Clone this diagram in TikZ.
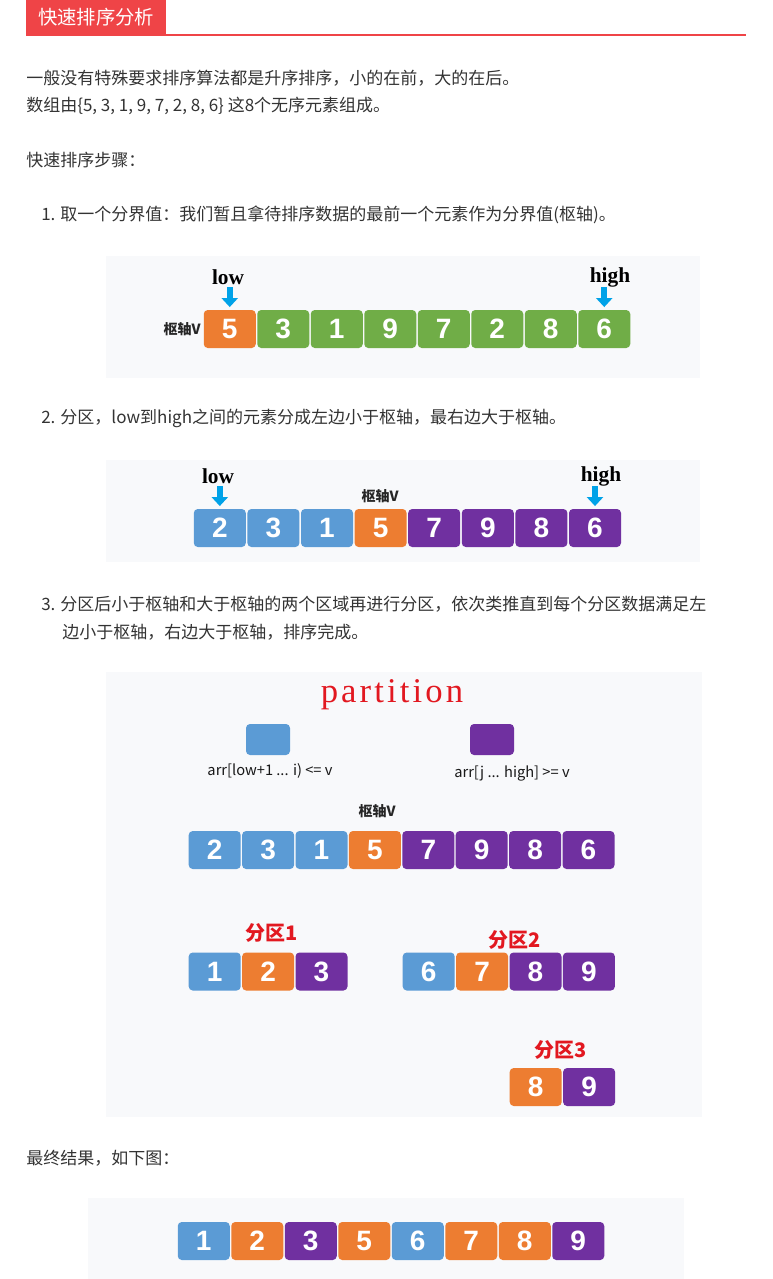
\documentclass[tikz,border=0pt]{standalone}
\usepackage{fontspec}
\setmainfont{Noto Sans CJK SC}
\newfontfamily\cellfont{Liberation Sans}
\newfontfamily\lblfont{Liberation Serif}
\newfontfamily\partfont[LetterSpace=9]{Liberation Serif}
\usetikzlibrary{arrows.meta}
\definecolor{hdr}{RGB}{239,68,71}
\definecolor{txt}{RGB}{51,51,51}
\definecolor{cgreen}{RGB}{112,173,71}
\definecolor{corange}{RGB}{237,125,49}
\definecolor{cblue}{RGB}{91,155,213}
\definecolor{cpurple}{RGB}{112,48,160}
\definecolor{arrowblue}{RGB}{0,162,232}
\definecolor{figbg}{RGB}{248,249,251}
\definecolor{pred}{RGB}{226,24,32}
\begin{document}
\begin{tikzpicture}[x=0.75pt,y=-0.75pt,
  cell/.style={rounded corners=3pt, minimum width=39pt, minimum height=28.5pt, inner sep=0pt,
    text=white, font=\cellfont\bfseries\fontsize{21}{21}\selectfont},
  body/.style={anchor=west, inner sep=0pt, text=txt, font=\fontsize{12.75}{15}\selectfont},
  figbox/.style={fill=figbg, draw=none},
  lowhigh/.style={inner sep=0pt, text=black, font=\lblfont\bfseries\fontsize{16}{16}\selectfont},
  pivot/.style={inner sep=0pt, text=black!85, font=\bfseries\fontsize{10.5}{12}\selectfont},
  parttitle/.style={inner sep=0pt, text=pred, font=\bfseries\fontsize{15}{16}\selectfont},
  legendtxt/.style={inner sep=0pt, text=black!90, font=\fontsize{11}{12}\selectfont},
  barrow/.style={draw=arrowblue, line width=4.5pt, -{Triangle[width=12pt,length=6.75pt]},
    shorten <=2pt, shorten >=2pt},
]
\useasboundingbox (0,0) rectangle (772,1279);
\fill[white] (0,0) rectangle (772,1279);

% header
\fill[hdr] (26,34) rectangle (746,36);
\node[fill=hdr, minimum width=105pt, minimum height=25.5pt, inner sep=0pt, anchor=north west,
  text=white, font=\fontsize{14.5}{16}\selectfont] (hd) at (26,0) {快速排序分析};

% body text
\node[body] (t1) at (26,78) {一般没有特殊要求排序算法都是升序排序，小的在前，大的在后。};
\node[body] (t2) at (26,106) {数组由\{5, 3, 1, 9, 7, 2, 8, 6\} 这8个无序元素组成。};
\node[body] (t3) at (26,160) {快速排序步骤：};
\node[body] (s1) at (41,215) {1. 取一个分界值：我们暂且拿待排序数据的最前一个元素作为分界值(枢轴)。};
\node[body] (s2) at (41,418) {2. 分区，low到high之间的元素分成左边小于枢轴，最右边大于枢轴。};
\node[body] (s3a) at (41,604) {3. 分区后小于枢轴和大于枢轴的两个区域再进行分区，依次类推直到每个分区数据满足左};
\node[body] (s3b) at (62,632) {边小于枢轴，右边大于枢轴，排序完成。};
\node[body] (t4) at (26,1158) {最终结果，如下图：};

% figure 1
\fill[figbox] (106,256) rectangle (700,378);
\foreach \v/\c [count=\i] in {5/corange,3/cgreen,1/cgreen,9/cgreen,7/cgreen,2/cgreen,8/cgreen,6/cgreen}
  \node[cell, fill=\c] (a\i) at ({203+26.75+(\i-1)*53.5},329) {\v};
\node[pivot, anchor=east] (pv1) at (201,329) {枢轴V};
\node[lowhigh] (low1) at (228,277) {low};
\node[lowhigh] (high1) at (610,277) {high};
\draw[barrow] (a1.north |- low1.south) -- (a1.north);
\draw[barrow] (a8.north |- low1.south) -- (a8.north);

% figure 2
\fill[figbox] (106,460) rectangle (700,562);
\foreach \v/\c [count=\i] in {2/cblue,3/cblue,1/cblue,5/corange,7/cpurple,9/cpurple,8/cpurple,6/cpurple}
  \node[cell, fill=\c] (b\i) at ({193+26.8+(\i-1)*53.6},528) {\v};
\node[pivot] (pv2) at (380,496) {枢轴V};
\node[lowhigh] (low2) at (218,476) {low};
\node[lowhigh] (high2) at (601,476) {high};
\draw[barrow] (b1.north |- low2.south) -- (b1.north);
\draw[barrow] (b8.north |- low2.south) -- (b8.north);

% figure 3
\fill[figbox] (106,672) rectangle (702,1117);
\node[inner sep=0pt, text=pred, font=\partfont\fontsize{26}{27}\selectfont] (pt) at (392,695) {partition};
\node[fill=cblue, rounded corners=3pt, minimum width=33pt, minimum height=23.25pt, inner sep=0pt] (lgb) at (268,739.5) {};
\node[fill=cpurple, rounded corners=3pt, minimum width=33pt, minimum height=23.25pt, inner sep=0pt] (lgp) at (492,739.5) {};
\node[legendtxt] (lgbt) at (270,771) {arr[low+1 ... i) <= v};
\node[legendtxt] (lgpt) at (512,773) {arr[j ... high] >= v};
\node[pivot] (pv3) at (377,811) {枢轴V};
\foreach \v/\c [count=\i] in {2/cblue,3/cblue,1/cblue,5/corange,7/cpurple,9/cpurple,8/cpurple,6/cpurple}
  \node[cell, fill=\c] (r\i) at ({188+26.7+(\i-1)*53.4},850) {\v};
\node[parttitle] (p1) at (272,933) {分区1};
\foreach \v/\c [count=\i] in {1/cblue,2/corange,3/cpurple}
  \node[cell, fill=\c] (pa\i) at ({188+26.7+(\i-1)*53.4},971.5) {\v};
\node[parttitle] (p2) at (515,940) {分区2};
\foreach \v/\c [count=\i] in {6/cblue,7/corange,8/cpurple,9/cpurple}
  \node[cell, fill=\c] (pb\i) at ({402+26.7+(\i-1)*53.4},971.5) {\v};
\node[parttitle] (p3) at (561,1050) {分区3};
\foreach \v/\c [count=\i] in {8/corange,9/cpurple}
  \node[cell, fill=\c] (pc\i) at ({509+26.7+(\i-1)*53.4},1087) {\v};

% figure 4
\fill[figbox] (88,1198) rectangle (684,1279);
\foreach \v/\c [count=\i] in {1/cblue,2/corange,3/cpurple,5/corange,6/cblue,7/corange,8/corange,9/cpurple}
  \node[cell, fill=\c] (f\i) at ({177+26.75+(\i-1)*53.5},1241) {\v};
\end{tikzpicture}
\end{document}
